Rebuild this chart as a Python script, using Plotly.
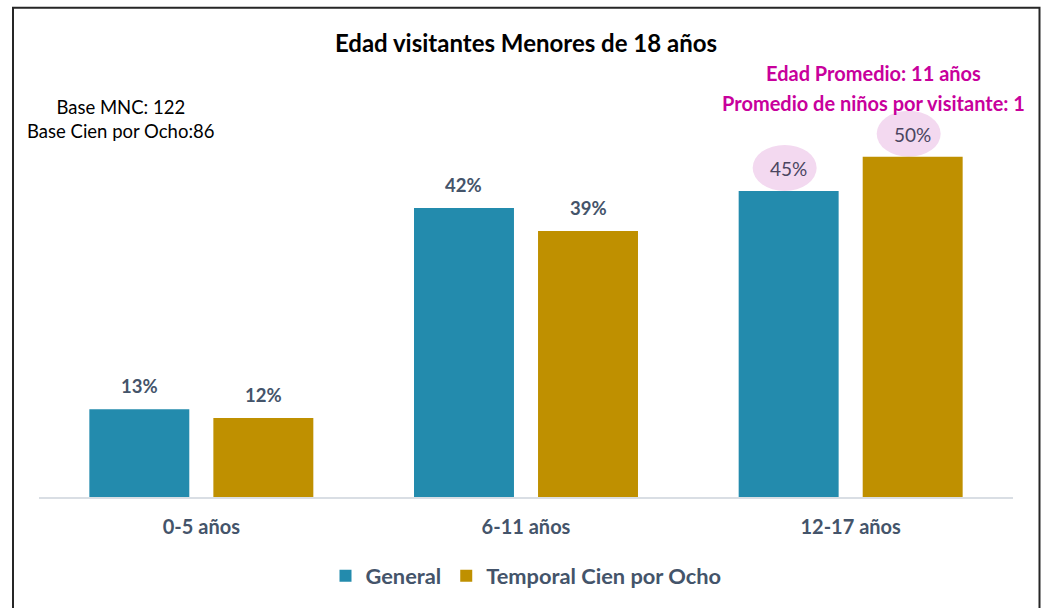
import plotly.graph_objects as go

categories = ["0-5 años", "6-11 años", "12-17 años"]
general = [12.9, 42.5, 45.0]
temporal = [11.6, 39.1, 50.0]
series_names = ["General", "Temporal Cien por Ocho"]
title_text = "Edad visitantes Menores de 18 años"
base_text = ["Base MNC: 122", "Base Cien por Ocho:86"]
promedio_text = ["Edad Promedio: 11 años", "Promedio de niños por visitante: 1"]
highlight_idx = 2

FONT = "Lato"
C_GEN = "#238BAD"
C_TMP = "#BF9000"
C_LBL = "#44546A"
MAGENTA = "#C8009C"

W, H = 1041, 608
ml, mr, mt, mb = 39, 28, 102, 110
pw, ph = W - ml - mr, H - mt - mb


def px(xr):
    return (xr - ml) / pw


def py(yr):
    return (H - mb - yr) / ph


xs = list(range(len(categories)))

fig = go.Figure()
fig.add_trace(go.Bar(x=xs, y=general, name=f"<b>{series_names[0]}</b>", marker_color=C_GEN))
fig.add_trace(go.Bar(x=xs, y=temporal, name=f"<b>{series_names[1]}</b>", marker_color=C_TMP))

bargap = 0.236
slot = (1 - bargap) / 2
offs = [-slot / 2, slot / 2]

annotations = []
shapes = []
for si, vals in enumerate([general, temporal]):
    for i, v in enumerate(vals):
        xpos = xs[i] + offs[si]
        label = f"{round(v):.0f}%"
        if i == highlight_idx:
            shapes.append(dict(type="circle", xref="x", yref="y",
                               xsizemode="pixel", ysizemode="pixel",
                               xanchor=xpos, yanchor=v,
                               x0=-36, x1=28, y0=0, y1=46,
                               fillcolor="#F3D9F0", line=dict(width=0), layer="below"))
            annotations.append(dict(x=xpos, y=v, xref="x", yref="y", text=label,
                                    showarrow=False, yanchor="middle", yshift=22,
                                    font=dict(family=FONT, size=19, color="#4A4560")))
        else:
            annotations.append(dict(x=xpos, y=v, xref="x", yref="y", text=f"<b>{label}</b>",
                                    showarrow=False, yanchor="middle", yshift=23,
                                    font=dict(family=FONT, size=18.5, color=C_LBL)))

annotations.append(dict(x=px(121), y=py(119.5), xref="paper", yref="paper",
                        text="<br>".join(base_text), showarrow=False, align="center",
                        xanchor="center", yanchor="middle",
                        font=dict(family=FONT, size=18.5, color="#000000")))
annotations.append(dict(x=px(873), y=py(73), xref="paper", yref="paper",
                        text=f"<b>{promedio_text[0]}</b>", showarrow=False,
                        xanchor="center", yanchor="middle",
                        font=dict(family=FONT, size=20, color=MAGENTA)))
annotations.append(dict(x=px(873), y=py(103), xref="paper", yref="paper",
                        text=f"<b>{promedio_text[1]}</b>", showarrow=False,
                        xanchor="center", yanchor="middle",
                        font=dict(family=FONT, size=20, color=MAGENTA)))

# outer frame
shapes.append(dict(type="rect", xref="paper", yref="paper",
                   x0=px(13), x1=px(1039.5), y0=py(660), y1=py(7.5),
                   line=dict(color="#262626", width=2), fillcolor="rgba(0,0,0,0)", layer="above"))

fig.update_layout(
    width=W, height=H,
    margin=dict(l=ml, r=mr, t=mt, b=mb),
    paper_bgcolor="white", plot_bgcolor="white",
    barmode="group", bargap=bargap, bargroupgap=0.194,
    title=dict(text=f"<b>{title_text}</b>", x=526 / W, xanchor="center",
               y=1 - 44 / H, yanchor="middle",
               font=dict(family=FONT, size=24, color="#000000")),
    xaxis=dict(tickvals=xs, ticktext=[f"<b>{c}</b>" for c in categories],
               range=[-0.5, len(categories) - 0.5],
               showline=True, linecolor="#D9DEE4", linewidth=2,
               showgrid=False, ticks="", zeroline=False, ticklabelstandoff=11,
               tickfont=dict(family=FONT, size=20, color=C_LBL)),
    yaxis=dict(range=[0, ph / 6.82], visible=False, showgrid=False, zeroline=False),
    legend=dict(orientation="h", x=px(526), xanchor="center",
                y=py(576), yanchor="middle",
                font=dict(family=FONT, size=21.8, color=C_LBL),
                traceorder="normal"),
    annotations=annotations, shapes=shapes,
    showlegend=True,
)
fig.update_traces(marker_line_width=0)

fig.write_html("out.html",
               config={"displayModeBar": False},
               post_script="document.body.style.margin='0px';"
                           "document.body.style.overflow='hidden';")
